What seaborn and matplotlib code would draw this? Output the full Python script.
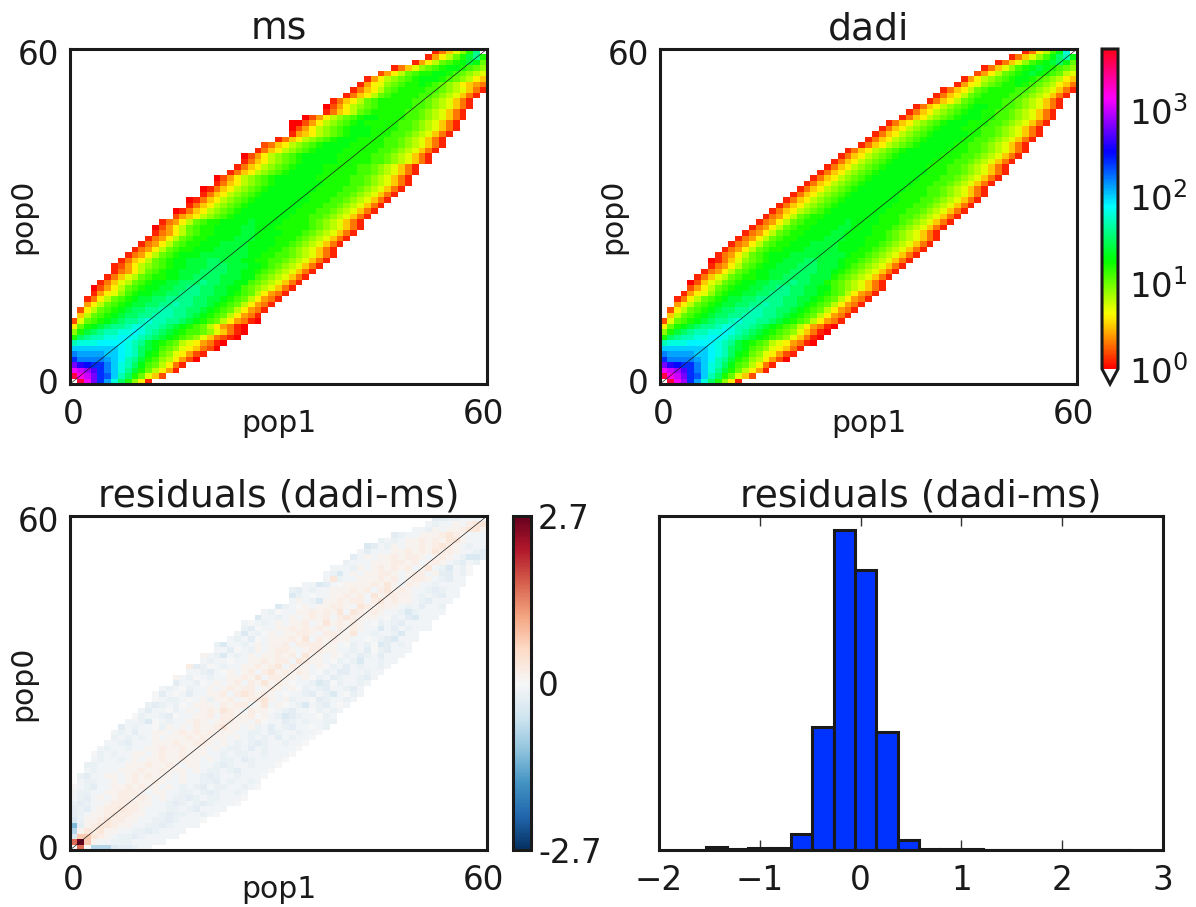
import numpy as np
import pandas as pd
import matplotlib
matplotlib.use("Agg")
import matplotlib.pyplot as plt
from matplotlib.colors import LogNorm, Normalize
import seaborn as sns

# Cell values. One string per row, row 0 at the bottom.
# Each character is log10(value) * 10 in base 36 (A = 36, B = 37), "." = masked.
CODES = "0123456789abcdefghijklmnopqrstuvwxyzAB"

MS_LEFT = [0] * 12 + [1, 1, 2, 2, 3, 3, 4, 5, 6, 6, 7, 8, 9, 10, 11, 12, 12, 13, 15, 15, 17, 17, 19, 19, 21, 21,
                      23, 24, 25, 25, 27, 28, 30, 32, 32, 32, 34, 37, 37, 38, 40, 41, 42, 43, 45, 47, 50, 52, 53]
MS_ROWS = [
    ".Avsolifc961",
    "Awusonkhfca752",
    "vutromkigeca8641",
    "sqpoomkihfdba8631",
    "ommmmlkjhgecb986420",
    "mllllkkjihfdca976421",
    "kkkkkkkjihfedba9765320",
    "hiiijjjjihgedcba8764310",
    "cfghhiijjihgfedcba9753210",
    "9cefghhiijihgfedcbba975310",
    "6acdefgghiihhgfedcba864310",
    "27abcdefgghihhggfedcba864310",
    "58abcdeffgghhhggfedcba86431",
    "268abcdeffgghhggffedcba86431",
    "468abcdeeffgghggffedcba86431",
    "1368abcdeeffggggffeedcba86431",
    "14679bcddeeffgggffeedcba86431",
    "02468abcddeeffggffeedd" + "ba987531",
    "13578abcddeefffgffeedd" + "ba987531",
    "13578abccddeeffffeeedd" + "ba987531",
    "13468abcddeeeffffeeddc" + "ba987531",
    "124689abcddeeefffeeeddc" + "ba987531",
    "13568abcddeeeffeeeddccb" + "ba987531",
    "13468abcdddeeeeeeeddccb" + "ba987531",
    "13468abccdddeeeeedddcc" + "ba987531",
    "13468abccdddeeeeddddcc" + "ba987531",
    "13468abccd" + "dddeeedddc" + "cc" + "ba987531",
    "13468abccd" + "dddeeddddc" + "cc" + "ba987531",
    "02468abccd" + "dddeedddcc" + "ccc" + "ba987531",
    "13468abccd" + "dddeddddcc" + "cc" + "ba987531",
    "245689abc" + "ddddddddcc" + "cbba987531",
    "0135689abc" + "ddddddddcc" + "cbba987531",
    "135689abc" + "ddddddddcc" + "cbba987531",
    "0135689abc" + "ddddddddcc" + "cbba987531",
    "135689abc" + "dddddddccc" + "cbba987531",
    "0135689abc" + "dddddddccc" + "cbba987531",
    "135689abc" + "dddddddccc" + "cbba987531",
    "024689abc" + "ddddddcccc" + "cbba987531",
    "135689abc" + "dddddcccc" + "cbba987531",
    "135689abc" + "ddddcccc" + "cbba987531",
    "135689abc" + "dddddcccc" + "cbba987531",
    "024689abc" + "dddddcccc" + "cbba987531",
    "135689abc" + "ddddcccc" + "cbba987531",
    "235689abc" + "ddddcccc" + "cbba987531",
    "135689abc" + "dddccc" + "cbba987531",
    "145689abc" + "dddcc" + "cbba987531",
    "024689abc" + "dddccc" + "cbba987531",
    "0024689abc" + "dcccc" + "cbba987531",
    "024689abc" + "ddccc" + "cbba987531",
    "13568abc" + "ccc" + "cbba987531",
    "024689abc" + "ccc" + "cbba987531",
    "13568abc" + "ccc" + "cbba987531",
    "13568abc" + "cc" + "cbba987531",
    "13568abc" + "cc" + "cbba987531",
    "14679abc" + "cd" + "cba986543",
    "14689abcdd" + "dcba9865",
    "2468abccd" + "dcba987",
    "13579abcd" + "dcba9",
    "1468abcde" + "da",
    "1468aceg" + "c",
    "13579cg.",
]

DADI_LEFT = [0] * 12 + [1, 1, 2, 2, 3, 4, 4, 5, 6, 7, 7, 8, 9, 10, 11, 12, 13, 14, 15, 16, 17, 18, 19, 20, 21, 22,
                        23, 24, 25, 26, 27, 29, 30, 31, 32, 33, 35, 36, 37, 39, 40, 41, 43, 44, 46, 47, 49, 51, 53]
DADI_ROWS = [
    ".Avtolifc961",
    "Awusonkhfca752",
    "vutromkigeca8641",
    "sqpoomkihfdba8631",
    "ommmmlkjhgecb986420",
    "mllllkkjihfdca976421",
    "kkkkkkkjihfedba976531",
    "hiiijjjjihgedcba8764310",
    "cfghhiijjihgfedcba975310",
    "9cefghhiijihgfedcba975310",
    "6acdefgghiihhgfedcba864310",
    "27abcdefgghihhggfedcba86431",
    "58abcdeffgghhhggfedcba86431",
    "268abcdeffgghhggffedcba86431",
    "468abcdeeffgghggffedcba86431",
    "1368abcdeeffggggffeedcba86431",
    "14679bcddeeffgggffeedcba86431",
    "2468abcddeeffggffeedd" + "ba987531",
    "02578abcdd" + "eefffgffee" + "cba987531",
    "13578abccd" + "deeffffeee" + "cba987531",
    "13468abcdd" + "eeeffffeed" + "cba987531",
    "13468abcdd" + "eeefffeeed" + "cba987531",
    "013579abcd" + "deeeffeeed" + "ccba987531",
    "13468abcdd" + "deeeeeeeed" + "ccba987531",
    "13468abccd" + "ddeeeeeddd" + "ccba987531",
    "13468abccd" + "ddeeeedddd" + "ccba987531",
    "13468abccd" + "dddeeedddc" + "ccba987531",
    "13468abccd" + "dddeeddddc" + "cba987531",
    "13468abccd" + "dddeedddcc" + "cba987531",
    "13468abccd" + "dddeddddcc" + "cba987531",
    "13468abcc" + "ddddddddcc" + "cbba987531",
    "135689abc" + "ddddddddcc" + "cbba987531",
    "135689abc" + "ddddddddcc" + "cbba987531",
    "135689abc" + "ddddddddcc" + "cbba987531",
    "135689abc" + "dddddddccc" + "cbba987531",
    "135689abc" + "dddddddcc" + "cbba987531",
    "135689abc" + "dddddddcc" + "cbba987531",
    "135689abc" + "dddddddcc" + "cbba987531",
    "135689abc" + "dddddddcc" + "cbba987531",
    "135689abc" + "ddddddcc" + "cbba987531",
    "135689abc" + "ddddddcc" + "cbba987531",
    "135689abc" + "ddddddcc" + "cbba987531",
    "135689abc" + "ddddddcc" + "cbba987531",
    "135689abc" + "dddddc" + "cbba987531",
    "135689abc" + "dddddc" + "cbba987531",
    "135689abc" + "dddddc" + "cbba987531",
    "135689abc" + "dddcc" + "cbba987531",
    "135689abc" + "dddcc" + "cbba987531",
    "135689abc" + "dddc" + "cbba987531",
    "135689abc" + "ddc" + "cbba987531",
    "135689abc" + "ddc" + "cbba987531",
    "13568abc" + "cc" + "cbba987531",
    "13568abc" + "cc" + "cbba987531",
    "13568abc" + "cc" + "cbba987531",
    "14679abccd" + "cba98653",
    "14689abcd" + "dcba9865",
    "2468abcde" + "dcba87",
    "13579bcde" + "dcba9",
    "13579bcdef" + "da",
    "13579bdfh" + "d",
    "1368bdi.",
]

# residuals use their own level table, same band as ms
RESID_LEVELS = {"0": 0.0, "1": 0.1, "2": 0.2, "3": 0.32, "4": 0.45, "5": 0.7, "6": 1.1, "7": 1.5, "8": 2.0, "9": 2.7,
                "a": -0.1, "b": -0.18, "c": -0.28, "d": -0.4, "e": -0.8, "f": -1.2, "g": -1.5, "h": -2.0, "i": -2.7,
                ".": np.nan}
RESID_ROWS = [
    ".70eeedccbaa",
    "7951aabbbaaaaa",
    "d55321abbcbaaaaa",
    "e132311aabbcbaaaa",
    "fc1233211aabbcbaaaa",
    "db11232211aabbcbaaa0",
    "cba11232211aabcbbaaba0",
    "cbca1223221aaabbabcaaaa",
    "bcbaa1222211aabcbabcbaaa0",
    "abca1a122121a1abbcbabbaaa0",
    "abbaa112221a11aabbabcbaaba",
    "0abcaa1121211a1ababcabbaaba0",
    "abbaa1a121121aa1aabbcabaaba",
    "bcaa11a1212111a1aabcbaabaaa0",
    "abaaa1112112111a1abbabcaaaa0",
    "bbaaaa11121121a11aabcbaabaaa0",
    "abaaba1a11211211a1abbacbaaaa0",
    "0babaa11a12112111aababbaabaaa0",
    "abaabaa112112111a1abbacabaaaa0",
    "aabcaaa111211221a1ababcbaabaa0",
    "bababa1a111212111a1ababacabaa0",
    "abacaa11a121212111aabbacbaabaa0",
    "cabaa0b1a1" + "a2112311a1" + "bacabcaa0ab",
    "aabd0abaa1" + "21a12211a2" + "0aacbabaabb",
    "0baabc0aa1" + "12a2211201" + "abdcbaa0ba",
    "acaa0ba1a1" + "21321a2110" + "abcaa0baba",
    "bcbab0a111" + "a2122a13a1" + "0abdabca0a",
    "0abba0a1b1" + "12a12231a1" + "baa0cbaaba",
    "0ca0acaa11" + "2a232121a0" + "aabcabda0ba",
    "aba0baa1a1" + "2122a121a1" + "0babcaabca",
    "caab0a1a12" + "a2131210aa" + "bdc0baaba",
    "1ab0abaa11" + "213a2211a1" + "0bacbaabca",
    "aabca01a12" + "a2312121a0" + "baccaabaa",
    "2cb0abaa11" + "2123a211a1" + "0bacabaaba",
    "abaa0aa112" + "122a3211a0" + "babdaabaa",
    "1abdaba1a1" + "1212a311a1" + "0bacbacaaa",
    "aac0ab1a12" + "21a12211aa" + "bac0bcaaa",
    "bdaaba1a11" + "2a222211a0" + "bab0dcaba",
    "abac0a1112" + "13a21211aa" + "0abcdaaa",
    "adab01a112" + "21a22113a" + "abaabdaa",
    "bc0aa11212" + "121a2121aa" + "dacabaaa",
    "a0aba1a112" + "a1312121a0" + "babcaaaa",
    "daaba1a121" + "2a232111a" + "0bacdaaa",
    "ab0aa11212" + "13a32121a" + "abdbaaaa",
    "dba01a1122" + "1a321211a" + "bacaab",
    "a1abd11212" + "2a231211" + "abcaaa",
    "dba0aa1121" + "2a312211a" + "babcaa",
    "bcabaa1112" + "12a23121a" + "abcbaa",
    "aadca01111" + "2131a21a" + "abaaaa",
    "a3baa11121" + "2a1221a" + "bcaa",
    "abda1a1122" + "1a122a1" + "ccab0",
    "aaab1a1212" + "12a13a" + "bdab0",
    "baaa111221" + "2a121a" + "bcab",
    "ca1a112122" + "1a121a" + "bddc",
    "acaaa11212" + "13221" + "aabc",
    "dcab1a1121" + "2321" + "abaa",
    "baba11212" + "1331" + "aaa",
    "cbaa11123" + "21aaa",
    "aab1a112" + "331",
    "abaa1a" + "233",
    "ccbbaaa.",
]

HIST_EDGES = [-1.537, -1.325, -1.114, -0.902, -0.691, -0.479, -0.268, -0.056, 0.156, 0.367, 0.579,
              0.790, 1.002, 1.213, 1.425, 1.637, 1.848, 2.060, 2.271, 2.483, 2.695]
HIST_COUNTS = [9, 3, 5, 7, 47, 369, 962, 842, 354, 29, 4, 4, 2, 0, 1, 1, 0, 0, 0, 1]

W, H = 1196.0, 907.0
TICK_FS = 23.5
LABEL_FS = 21.5
TITLE_FS = 27.2
SPINE_LW = 2.2


def decode_log(rows, left):
    grid = np.full((61, 61), np.nan)
    for r, (row, start) in enumerate(zip(rows, left)):
        for c, ch in zip(range(start, 61), row):
            if ch != ".":
                grid[r, c] = 10 ** (CODES.index(ch) / 10)
    return pd.DataFrame(grid)


def decode_resid(rows, left):
    grid = np.full((61, 61), np.nan)
    for r, (row, start) in enumerate(zip(rows, left)):
        for c, ch in zip(range(start, 61), row):
            grid[r, c] = RESID_LEVELS[ch]
    return pd.DataFrame(grid)


def add_axes(fig, x0, y0, x1, y1):
    return fig.add_axes([x0 / W, 1 - y1 / H, (x1 - x0) / W, (y1 - y0) / H])


def draw_map(ax, df, cmap, norm, title):
    sns.heatmap(df, ax=ax, cmap=cmap, norm=norm, cbar=False, square=False, xticklabels=False, yticklabels=False)
    ax.invert_yaxis()
    ax.plot([0, 61], [0, 61], color="k", lw=0.5)
    ax.set_xlim(0, 61)
    ax.set_ylim(0, 61)
    ax.set_xticks([0.5, 60.5], ["0", "60"])
    ax.set_yticks([0.5, 60.5], ["0", "60"], rotation=0)
    ax.tick_params(axis="x", length=0, pad=10, labelsize=TICK_FS)
    ax.tick_params(axis="y", length=0, pad=8, labelsize=TICK_FS)
    ax.set_xlabel("pop1", fontsize=LABEL_FS)
    ax.set_ylabel("pop0", fontsize=LABEL_FS)
    ax.xaxis.set_label_coords(0.5, -0.075)
    ax.yaxis.set_label_coords(-0.078, 0.5)
    ax.set_title(title, fontsize=TITLE_FS, pad=7)
    for s in ax.spines.values():
        s.set_visible(True)
        s.set_linewidth(SPINE_LW)
        s.set_color("k")


sns.set_theme(style="white", rc={"axes.edgecolor": "k", "text.color": "k", "xtick.color": "k", "ytick.color": "k",
                                 "axes.labelcolor": "k"})
plt.rcParams["font.family"] = "DejaVu Sans"

fig = plt.figure(figsize=(W / 100, H / 100), dpi=100)

ms_df = decode_log(MS_ROWS, MS_LEFT)
dadi_df = decode_log(DADI_ROWS, DADI_LEFT)
resid_df = decode_resid(RESID_ROWS, MS_LEFT)

hsv = plt.get_cmap("hsv").copy()
hsv.set_under("w")
hsv.set_bad("w")
log_norm = LogNorm(vmin=1, vmax=5100)

ax_ms = add_axes(fig, 70, 49, 487, 384)
draw_map(ax_ms, ms_df, hsv, log_norm, "ms")

ax_dadi = add_axes(fig, 660, 49, 1077, 384)
draw_map(ax_dadi, dadi_df, hsv, log_norm, "dadi")

cax = add_axes(fig, 1102, 49, 1118, 384)
cb = fig.colorbar(ax_dadi.collections[0], cax=cax, extend="min", extendfrac=0.047)
cb.set_ticks([1, 10, 100, 1000], labels=["$\\mathdefault{10^{0}}$", "$\\mathdefault{10^{1}}$",
                                         "$\\mathdefault{10^{2}}$", "$\\mathdefault{10^{3}}$"])
cb.minorticks_off()
cb.ax.tick_params(direction="in", length=7, width=1, color="k", labelsize=TICK_FS + 1, pad=8)
cb.outline.set_linewidth(SPINE_LW)
cb.outline.set_edgecolor("k")

ax_res = add_axes(fig, 70, 516, 487, 850)
resid_cmap = plt.get_cmap("RdBu_r").copy()
resid_cmap.set_bad("w")
draw_map(ax_res, resid_df, resid_cmap, Normalize(vmin=-2.7, vmax=2.7), "residuals (dadi-ms)")

cax2 = add_axes(fig, 513, 516, 531, 850)
cb2 = fig.colorbar(ax_res.collections[0], cax=cax2)
cb2.set_ticks([-2.7, 0, 2.7], labels=["-2.7", "0", "2.7"])
cb2.ax.tick_params(direction="in", length=7, width=1, color="k", labelsize=TICK_FS, pad=5)
cb2.outline.set_linewidth(SPINE_LW)
cb2.outline.set_edgecolor("k")

ax_hist = add_axes(fig, 659, 516, 1163, 850)
centers = [(a + b) / 2 for a, b in zip(HIST_EDGES[:-1], HIST_EDGES[1:])]
sns.histplot(x=centers, weights=HIST_COUNTS, bins=HIST_EDGES, ax=ax_hist, color="#0033ff", edgecolor="k",
             linewidth=SPINE_LW, alpha=1)
ax_hist.set_xlim(-2, 3)
ax_hist.set_ylim(0, 1003)
ax_hist.set_yticks([])
ax_hist.set_ylabel("")
ax_hist.set_xticks([-2, -1, 0, 1, 2, 3])
ax_hist.tick_params(axis="x", direction="in", bottom=True, top=True, length=7, width=1, color="#333333",
                    labelsize=TICK_FS, pad=10)
ax_hist.set_title("residuals (dadi-ms)", fontsize=TITLE_FS, pad=7, x=0.519)
for s in ax_hist.spines.values():
    s.set_visible(True)
    s.set_linewidth(SPINE_LW)
    s.set_color("k")

fig.savefig("out.png", dpi=100)
plt.close(fig)
